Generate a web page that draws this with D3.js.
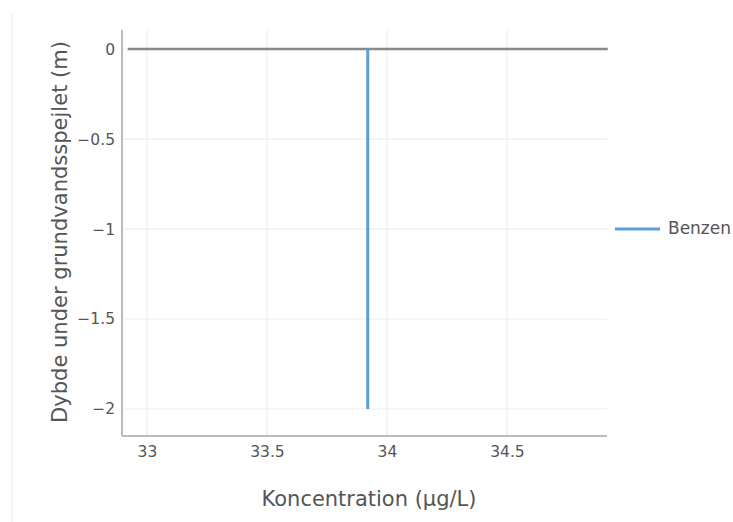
<!DOCTYPE html>
<html><head><meta charset="utf-8">
<script src="https://cdn.jsdelivr.net/npm/d3@7/dist/d3.min.js"></script>
<style>body{margin:0;background:#fff;} svg{display:block;font-family:"DejaVu Sans",Verdana,sans-serif;}</style>
</head><body>
<svg id="c" width="733" height="522"></svg>
<script>
const xTicks = [33, 33.5, 34, 34.5];
const yTicks = [0, -0.5, -1, -1.5, -2];
const seriesName = "Benzen";
const benzenX = [33.92, 33.92];
const benzenDepth = [0, -2];
const waterTableX = [32.92, 34.92];
const waterTableY = [0, 0];

const svg = d3.select("#c");
const m = {l:122, r:607, t:30, b:436};
const x = d3.scaleLinear().domain([32.896, 34.917]).range([m.l, m.r]);
const y = d3.scaleLinear().domain([0.106, -2.15]).range([m.t, m.b]);
const txt = "#555";

function fit(sel, target){
  const w = sel.node().getComputedTextLength();
  const fs = parseFloat(sel.style("font-size"));
  sel.style("font-size", (fs*target/w).toFixed(2)+"px");
}

// faint left border
svg.append("line").attr("x1",12).attr("x2",12).attr("y1",14).attr("y2",522)
  .attr("stroke","#efefef").attr("stroke-width",1.5);

// grid
svg.append("g").selectAll("line").data(xTicks).join("line")
  .attr("x1",d=>x(d)).attr("x2",d=>x(d)).attr("y1",m.t).attr("y2",m.b)
  .attr("stroke","#eeeeee").attr("stroke-width",1.2);
svg.append("g").selectAll("line").data(yTicks).join("line")
  .attr("x1",m.l).attr("x2",m.r).attr("y1",d=>y(d)).attr("y2",d=>y(d))
  .attr("stroke","#eeeeee").attr("stroke-width",1.2);

// axes
const xa = svg.append("g").attr("transform",`translate(0,${m.b})`)
  .call(d3.axisBottom(x).tickValues(xTicks).tickSize(0).tickPadding(10).tickFormat(d3.format("")));
const ya = svg.append("g").attr("transform",`translate(${m.l},0)`)
  .call(d3.axisLeft(y).tickValues(yTicks).tickSize(0).tickPadding(7).tickFormat(d=>d===0?"0":String(d).replace("-","\u2212")));
[xa,ya].forEach(a=>{
  a.select(".domain").attr("stroke","#bbbbbb").attr("stroke-width",2);
  a.selectAll("text").attr("fill",txt).style("font-size","15.5px").style("font-family","'DejaVu Sans',Verdana,sans-serif");
});
xa.select(".domain").attr("d",`M${m.l},0H${m.r}`);
ya.select(".domain").attr("d",`M0,${m.t}V${m.b}`);

const line = d3.line().x(d=>x(d[0])).y(d=>y(d[1]));
svg.append("path").datum(d3.zip(waterTableX, waterTableY)).attr("d",line)
  .attr("fill","none").attr("stroke","#888").attr("stroke-width",2.5);
svg.append("path").datum(d3.zip(benzenX, benzenDepth)).attr("d",line)
  .attr("fill","none").attr("stroke","#5a9fd4").attr("stroke-width",3);

// titles
const xt = svg.append("text").attr("x",369).attr("y",506).attr("text-anchor","middle")
  .attr("fill",txt).style("font-size","18px").text("Koncentration (µg/L)");
fit(xt, 215);
const yt = svg.append("text").attr("transform","translate(67,232) rotate(-90)").attr("text-anchor","middle")
  .attr("fill",txt).style("font-size","18px").text("Dybde under grundvandsspejlet (m)");
fit(yt, 382);

// legend
const lg = svg.append("g").attr("transform","translate(615,229)");
lg.append("line").attr("x1",0).attr("x2",45).attr("y1",0).attr("y2",0)
  .attr("stroke","#5a9fd4").attr("stroke-width",3);
const lt = lg.append("text").attr("x",53).attr("y",5).attr("fill",txt).style("font-size","13px").text(seriesName);
fit(lt, 63);
</script>
</body></html>
